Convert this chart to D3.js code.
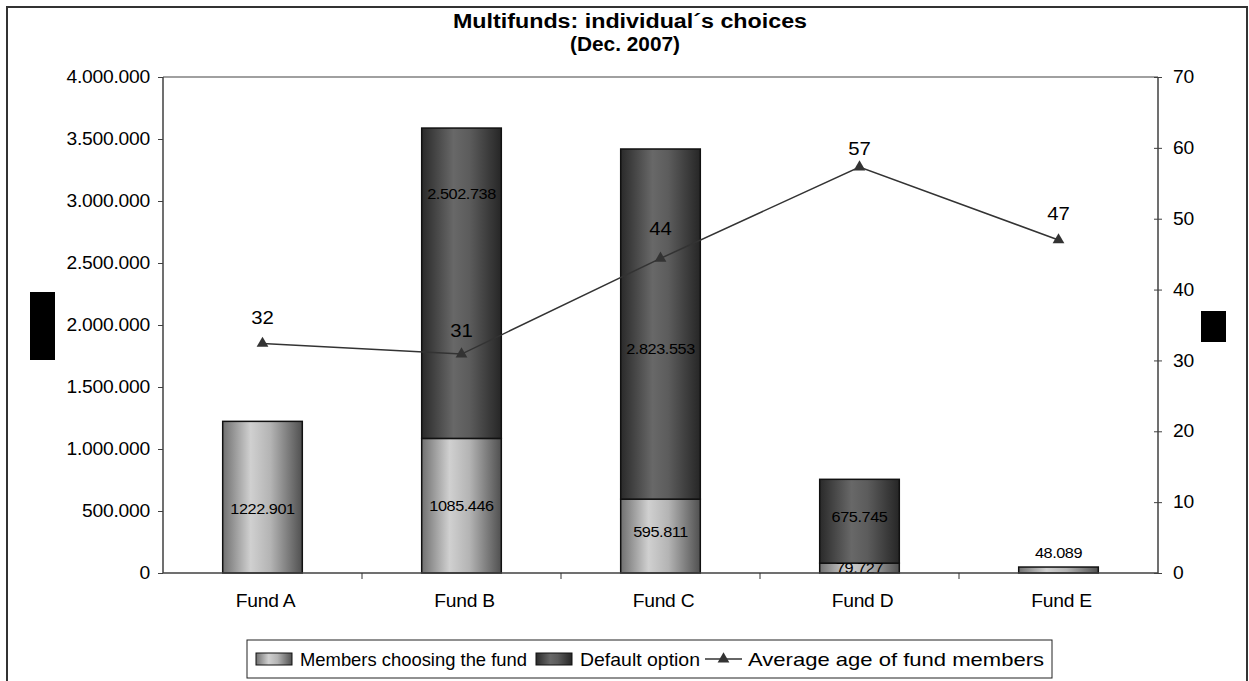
<!DOCTYPE html>
<html><head><meta charset="utf-8">
<script src="https://cdn.jsdelivr.net/npm/d3@7/dist/d3.min.js"></script>
<style>
html,body{margin:0;padding:0;background:#fff;}
text{font-family:"Liberation Sans",Arial,sans-serif;fill:#000;}
</style></head>
<body>
<svg id="chart" width="1249" height="681"></svg>
<script>
// ---- data ----
const funds = ["Fund A", "Fund B", "Fund C", "Fund D", "Fund E"];
const membersChoosing = [1222901, 1085446, 595811, 79727, 48089];
const defaultOption = [0, 2502738, 2823553, 675745, 0];
const averageAge = [32.4, 30.9, 44.4, 57.3, 47.0];
const membersLabels = ["1222.901", "1085.446", "595.811", "79.727", "48.089"];
const defaultLabels = ["", "2.502.738", "2.823.553", "675.745", ""];
const leftTicks = [0, 500000, 1000000, 1500000, 2000000, 2500000, 3000000, 3500000, 4000000];
const rightTicks = [0, 10, 20, 30, 40, 50, 60, 70];
const seriesNames = ["Members choosing the fund", "Default option", "Average age of fund members"];
const titleLines = ["Multifunds: individual\u00B4s choices", "(Dec. 2007)"];

// ---- layout (not data) ----
const plot = {l: 163, r: 1158, t: 77, b: 573};
const membersLabelShift = [11, 0, -4, 0, -17];
const defaultLabelShift = [0, -90, 25, -5, 0];
const ageLabelShift = [-26, -24, -30, -19, -27];

const svg = d3.select("#chart");
const defs = svg.append("defs");
function grad(id, stops){
  const g = defs.append("linearGradient").attr("id", id).attr("x1","0%").attr("x2","100%").attr("y1","0%").attr("y2","0%");
  stops.forEach(s => g.append("stop").attr("offset", s[0]).attr("stop-color", s[1]));
}
grad("gMem", [["0%","#707070"],["35%","#d0d0d0"],["60%","#b4b4b4"],["100%","#505050"]]);
grad("gDef", [["0%","#2a2a2a"],["40%","#686868"],["60%","#5c5c5c"],["100%","#262626"]]);

// horizontally stretch text, keeping its anchor point
function stretch(sel, sx){
  sel.each(function(){
    const t = d3.select(this);
    const x0 = +t.attr("x") || 0, y0 = +t.attr("y") || 0;
    t.attr("x", 0).attr("y", 0).attr("transform", `translate(${x0},${y0}) scale(${sx},1)`);
  });
}

// outer border
svg.append("rect").attr("x",7).attr("y",7).attr("width",1240).attr("height",680)
  .attr("fill","#fff").attr("stroke","#333").attr("stroke-width",2);

// title
const tt = svg.append("g");
tt.append("text").attr("x",630).attr("y",28).attr("text-anchor","middle")
  .attr("textLength",354).attr("lengthAdjust","spacingAndGlyphs")
  .style("font-size","20px").style("font-weight","bold").text(titleLines[0]);
tt.append("text").attr("x",625).attr("y",51).attr("text-anchor","middle")
  .attr("textLength",110).attr("lengthAdjust","spacingAndGlyphs")
  .style("font-size","20px").style("font-weight","bold").text(titleLines[1]);

// scales
const x = d3.scaleBand().domain(funds).range([plot.l, plot.r]).paddingInner(0.6).paddingOuter(0.3);
const y = d3.scaleLinear().domain([0, 4000000]).range([plot.b, plot.t]);
const y2 = d3.scaleLinear().domain([0, 70]).range([plot.b, plot.t]);
const fmt = d3.formatLocale({decimal:",", thousands:".", grouping:[3], currency:["",""]}).format(",");

// plot top border
svg.append("line").attr("x1",plot.l).attr("x2",plot.r).attr("y1",plot.t).attr("y2",plot.t)
  .attr("stroke","#808080").attr("stroke-width",1.5);

// bars
const g = svg.append("g");
funds.forEach((f, i) => {
  const m = membersChoosing[i], d = defaultOption[i];
  g.append("rect").attr("x", x(f)).attr("width", x.bandwidth())
    .attr("y", y(m)).attr("height", y(0) - y(m))
    .attr("fill","url(#gMem)").attr("stroke","#111").attr("stroke-width",1.5);
  if (d > 0) {
    g.append("rect").attr("x", x(f)).attr("width", x.bandwidth())
      .attr("y", y(m + d)).attr("height", y(m) - y(m + d))
      .attr("fill","url(#gDef)").attr("stroke","#111").attr("stroke-width",1.5);
  }
});

// axes
const axL = svg.append("g").attr("transform",`translate(${plot.l},0)`)
  .call(d3.axisLeft(y).tickValues(leftTicks).tickFormat(fmt).tickSize(5).tickPadding(8));
const axR = svg.append("g").attr("transform",`translate(${plot.r},0)`)
  .call(d3.axisRight(y2).tickValues(rightTicks).tickSize(4).tickPadding(11));
axR.selectAll(".tick line").attr("x1",-4);
const axB = svg.append("g").attr("transform",`translate(0,${plot.b})`)
  .call(d3.axisBottom(x).tickSize(0).tickPadding(22));
// category separator ticks
const step = x.step();
d3.range(1, funds.length).forEach(k => {
  svg.append("line").attr("x1", plot.l + k*step).attr("x2", plot.l + k*step)
    .attr("y1", plot.b).attr("y2", plot.b + 6).attr("stroke","#333").attr("stroke-width",1);
});
[axL, axR, axB].forEach(a => {
  a.selectAll(".domain").attr("stroke","#404040").attr("stroke-width",1.5);
  a.selectAll(".tick line").attr("stroke","#404040");
  a.selectAll("text").style("font-size","17.5px").style("letter-spacing","-0.2px")
    .style("font-family","'Liberation Sans',Arial,sans-serif").attr("fill","#000");
  stretch(a.selectAll("text"), 1.1);
});
axB.selectAll(".tick text").attr("transform", function(){
  return d3.select(this).attr("transform").replace("translate(0,", "translate(3,");
});
axL.select(".domain").attr("d", `M0,${plot.t}V${plot.b}`);
axR.select(".domain").attr("d", `M0,${plot.t}V${plot.b}`);
axB.select(".domain").attr("d", `M${plot.l},0H${plot.r}`);

// bar labels
funds.forEach((f, i) => {
  const m = membersChoosing[i], d = defaultOption[i];
  const cx = x(f) + x.bandwidth()/2;
  g.append("text").attr("x", cx).attr("y", (y(0)+y(m))/2 + membersLabelShift[i])
    .attr("text-anchor","middle").attr("dominant-baseline","central")
    .style("font-size","15.5px").style("letter-spacing","-0.4px").text(membersLabels[i]);
  if (d > 0) {
    g.append("text").attr("x", cx).attr("y", (y(m)+y(m+d))/2 + defaultLabelShift[i])
      .attr("text-anchor","middle").attr("dominant-baseline","central")
      .style("font-size","15.5px").style("letter-spacing","-0.4px").text(defaultLabels[i]);
  }
});
stretch(g.selectAll("text"), 1.05);

// line
const lineGen = d3.line().x((d,i) => x(funds[i]) + x.bandwidth()/2).y(d => y2(d));
svg.append("path").datum(averageAge).attr("d", lineGen).attr("fill","none")
  .attr("stroke","#333").attr("stroke-width",1.5);
const tri = d3.symbol().type(d3.symbolTriangle).size(60);
const al = svg.append("g");
averageAge.forEach((v, i) => {
  const cx = x(funds[i]) + x.bandwidth()/2;
  svg.append("path").attr("d", tri).attr("transform",`translate(${cx},${y2(v)})`).attr("fill","#333");
  al.append("text").attr("x", cx).attr("y", y2(v) + ageLabelShift[i])
    .attr("text-anchor","middle").attr("dominant-baseline","central")
    .style("font-size","18.5px").text(d3.format(".0f")(v));
});
stretch(al.selectAll("text"), 1.1);

// redaction blocks (axis titles)
svg.append("rect").attr("x",30).attr("y",292).attr("width",25).attr("height",68).attr("fill","#000");
svg.append("rect").attr("x",1201).attr("y",311).attr("width",25).attr("height",31).attr("fill","#000");

// legend
const lg = svg.append("g");
lg.append("rect").attr("x",247).attr("y",640).attr("width",805).attr("height",38)
  .attr("fill","#fff").attr("stroke","#222").attr("stroke-width",1);
const ly = 659;
const legendText = (xx, len, s) => lg.append("text").attr("x",xx).attr("y",ly)
  .attr("dominant-baseline","central").attr("textLength",len).attr("lengthAdjust","spacingAndGlyphs")
  .style("font-size","18.5px").text(s);
lg.append("rect").attr("x",256).attr("y",ly-6).attr("width",36).attr("height",12)
  .attr("fill","url(#gMem)").attr("stroke","#111");
legendText(300, 227, seriesNames[0]);
lg.append("rect").attr("x",536).attr("y",ly-6).attr("width",36).attr("height",12)
  .attr("fill","url(#gDef)").attr("stroke","#111");
legendText(580, 120, seriesNames[1]);
lg.append("line").attr("x1",705).attr("x2",742).attr("y1",ly).attr("y2",ly).attr("stroke","#333").attr("stroke-width",1.5);
lg.append("path").attr("d", tri).attr("transform",`translate(723.5,${ly})`).attr("fill","#333");
legendText(748, 296, seriesNames[2]);
</script>
</body></html>
